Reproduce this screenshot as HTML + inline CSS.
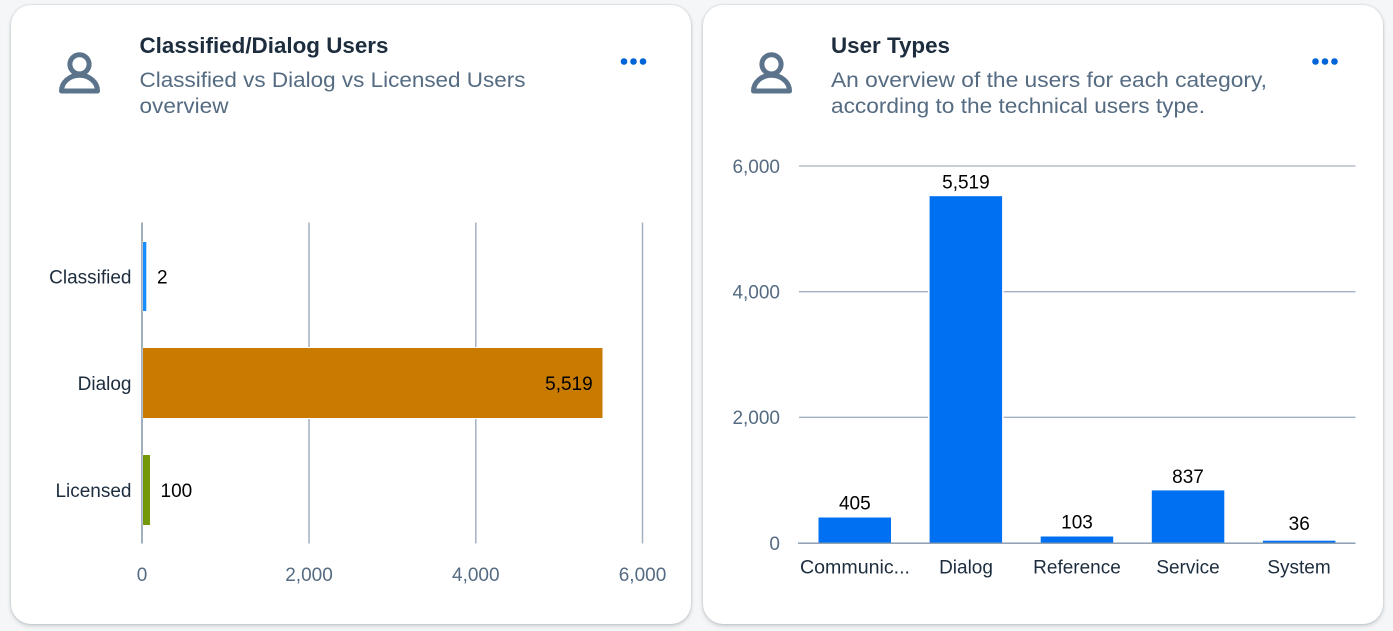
<!DOCTYPE html>
<html>
<head>
<meta charset="utf-8">
<style>
  html, body { margin:0; padding:0; }
  body { width:1393px; height:631px; background:#f5f6f7; position:relative; overflow:hidden; font-family:"Liberation Sans", sans-serif; }
  .card { position:absolute; top:5px; height:619px; width:680px; background:#fff; border-radius:20px;
    box-shadow: 0 0 2px 0 rgba(34,53,72,0.2), 0 2px 4px 0 rgba(34,53,72,0.2); }
  svg { position:absolute; left:0; top:0; }
</style>
</head>
<body>
<div class="card" style="left:11px;"></div>
<div class="card" style="left:703px;"></div>

<svg width="1393" height="631" viewBox="0 0 1393 631" xmlns="http://www.w3.org/2000/svg" font-family="Liberation Sans, sans-serif">
  <!-- ===== LEFT CARD HEADER ===== -->
  <g fill="none" stroke="#5b738b" stroke-width="5">
    <circle cx="79.5" cy="64.3" r="9.6"/>
    <path d="M61.5,91 A18,15.8 0 0 1 97.5,91 Z" stroke-linejoin="round"/>
  </g>
  <text x="139.5" y="53" font-size="22" font-weight="bold" fill="#1d2d3e" textLength="249" lengthAdjust="spacingAndGlyphs">Classified/Dialog Users</text>
  <text x="139.5" y="87" font-size="21" fill="#556b82" textLength="386" lengthAdjust="spacingAndGlyphs">Classified vs Dialog vs Licensed Users</text>
  <text x="139.5" y="113" font-size="21" fill="#556b82" textLength="89" lengthAdjust="spacingAndGlyphs">overview</text>
  <g fill="#0064d9">
    <circle cx="624" cy="61.5" r="3.3"/>
    <circle cx="633.5" cy="61.5" r="3.3"/>
    <circle cx="643" cy="61.5" r="3.3"/>
  </g>

  <!-- ===== LEFT CHART ===== -->
  <g stroke="#a3b1c0" stroke-width="1.5">
    <line x1="309" y1="222.5" x2="309" y2="543.5"/>
    <line x1="475.8" y1="222.5" x2="475.8" y2="543.5"/>
    <line x1="642.5" y1="222.5" x2="642.5" y2="543.5"/>
  </g>
  <line x1="142" y1="222.5" x2="142" y2="543.5" stroke="#8396a8" stroke-width="1.5"/>
  <!-- bars -->
  <rect x="142.7" y="241" width="4.3" height="71" fill="#fff"/>
  <rect x="143" y="242" width="3.3" height="69" fill="#168eff"/>
  <rect x="142.7" y="347" width="460.8" height="72" fill="#fff"/>
  <rect x="143" y="348" width="459.5" height="70" fill="#c87b00"/>
  <rect x="142.7" y="454" width="8.5" height="72" fill="#fff"/>
  <rect x="143" y="455" width="7" height="70" fill="#75980b"/>
  <!-- category labels -->
  <g font-size="19" fill="#1d2d3e" text-anchor="end">
    <text x="131.5" y="283.5">Classified</text>
    <text x="131.5" y="390">Dialog</text>
    <text x="131.5" y="497">Licensed</text>
  </g>
  <!-- value labels -->
  <g font-size="19" fill="#000">
    <text x="157" y="283.5">2</text>
    <text x="592.7" y="390" text-anchor="end">5,519</text>
    <text x="160.5" y="497">100</text>
  </g>
  <!-- x ticks -->
  <g font-size="19" fill="#556b82" text-anchor="middle">
    <text x="142" y="580.8">0</text>
    <text x="309" y="580.8">2,000</text>
    <text x="475.8" y="580.8">4,000</text>
    <text x="642.5" y="580.8">6,000</text>
  </g>

  <!-- ===== RIGHT CARD HEADER ===== -->
  <g fill="none" stroke="#5b738b" stroke-width="5">
    <circle cx="771.5" cy="64.3" r="9.6"/>
    <path d="M753.5,91 A18,15.8 0 0 1 789.5,91 Z" stroke-linejoin="round"/>
  </g>
  <text x="831" y="53" font-size="22" font-weight="bold" fill="#1d2d3e" textLength="119" lengthAdjust="spacingAndGlyphs">User Types</text>
  <text x="831" y="87" font-size="21" fill="#556b82" textLength="436" lengthAdjust="spacingAndGlyphs">An overview of the users for each category,</text>
  <text x="831" y="113" font-size="21" fill="#556b82" textLength="374" lengthAdjust="spacingAndGlyphs">according to the technical users type.</text>
  <g fill="#0064d9">
    <circle cx="1315.5" cy="61.5" r="3.3"/>
    <circle cx="1325" cy="61.5" r="3.3"/>
    <circle cx="1334.5" cy="61.5" r="3.3"/>
  </g>

  <!-- ===== RIGHT CHART ===== -->
  <g stroke="#a3b1c0" stroke-width="1.3">
    <line x1="799" y1="166" x2="1355.5" y2="166"/>
    <line x1="799" y1="291.7" x2="1355.5" y2="291.7"/>
    <line x1="799" y1="417.3" x2="1355.5" y2="417.3"/>
  </g>
  <!-- bars with white halo -->
  <g fill="#fff">
    <rect x="817" y="516" width="75.5" height="27"/>
    <rect x="928.1" y="194.7" width="75.5" height="348.3"/>
    <rect x="1039.2" y="535" width="75.5" height="8"/>
    <rect x="1150.3" y="488.9" width="75.5" height="54.1"/>
    <rect x="1261.4" y="539.2" width="75.5" height="3.8"/>
  </g>
  <g fill="#0070f2">
    <rect x="818.5" y="517.5" width="72.5" height="25.5"/>
    <rect x="929.6" y="196.2" width="72.5" height="346.8"/>
    <rect x="1040.7" y="536.5" width="72.5" height="6.5"/>
    <rect x="1151.8" y="490.4" width="72.5" height="52.6"/>
    <rect x="1262.9" y="540.7" width="72.5" height="2.3"/>
  </g>
  <line x1="798" y1="543.2" x2="1355.5" y2="543.2" stroke="#8396a8" stroke-width="1.3"/>
  <!-- y ticks -->
  <g font-size="19" fill="#556b82" text-anchor="end">
    <text x="780" y="172.8">6,000</text>
    <text x="780" y="298.5">4,000</text>
    <text x="780" y="424.1">2,000</text>
    <text x="780" y="549.8">0</text>
  </g>
  <!-- value labels -->
  <g font-size="19" fill="#000" text-anchor="middle">
    <text x="854.8" y="509.5">405</text>
    <text x="965.9" y="188.5">5,519</text>
    <text x="1077" y="528.5">103</text>
    <text x="1188" y="482.8">837</text>
    <text x="1299.2" y="530">36</text>
  </g>
  <!-- category labels -->
  <g font-size="19" fill="#1d2d3e" text-anchor="middle">
    <text x="855" y="573.5" textLength="110" lengthAdjust="spacingAndGlyphs">Communic...</text>
    <text x="966" y="573.5">Dialog</text>
    <text x="1077" y="573.5">Reference</text>
    <text x="1188" y="573.5">Service</text>
    <text x="1299" y="573.5">System</text>
  </g>
</svg>
</body>
</html>
